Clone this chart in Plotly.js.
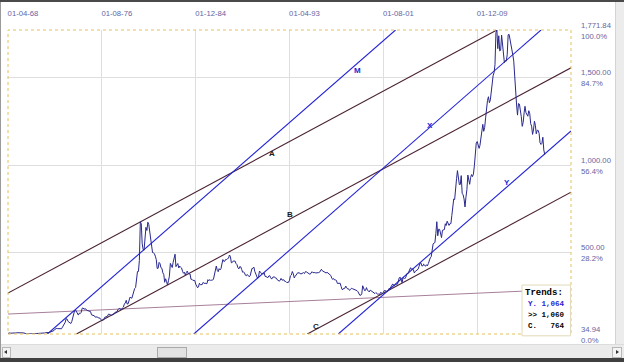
<!DOCTYPE html>
<html>
<head>
<meta charset="utf-8">
<script src="https://cdn.plot.ly/plotly-3.0.1.min.js"></script>
<style>
  html, body { margin: 0; padding: 0; background: #ffffff; }
  #wrap { position: relative; width: 624px; height: 362px; overflow: hidden; }
  #chart { position: absolute; left: 0; top: 0; width: 624px; height: 362px; }
  .f { position: absolute; pointer-events: none; }
</style>
</head>
<body>
<div id="wrap">
  <div id="chart"></div>
  <div class="f" style="left:0;top:0;width:624px;height:2px;background:#4a4a4a;"></div>
  <div class="f" style="left:0;top:2px;width:1px;height:356px;background:#9a9a9a;"></div>
  <div class="f" style="left:615px;top:2px;width:9px;height:342px;background:#ececec;border-left:1px solid #d4d4d4;"></div>
  <div class="f" style="left:1px;top:344px;width:623px;height:14px;background:#ebebeb;border-top:1px solid #dcdcdc;"></div>
  <div class="f" style="left:2px;top:347px;width:7px;height:9px;background:#f4f4f4;border:1px solid #b8b8b8;"></div>
  <div class="f" style="left:4px;top:350px;width:0;height:0;border-top:2px solid transparent;border-bottom:2px solid transparent;border-right:3px solid #333;"></div>
  <div class="f" style="left:157px;top:347px;width:28px;height:9px;background:#e2e2e2;border:1px solid #aaaaaa;"></div>
  <div class="f" style="left:612px;top:347px;width:8px;height:9px;background:#f4f4f4;border:1px solid #b8b8b8;"></div>
  <div class="f" style="left:616px;top:350px;width:0;height:0;border-top:2px solid transparent;border-bottom:2px solid transparent;border-left:3px solid #333;"></div>
  <div class="f" style="left:0;top:358px;width:624px;height:4px;background:#404040;"></div>
</div>
<script>
// Monthly average gold price (USD/oz), starting April 1968
var startYear = 1968, startMonth = 4;
var gold1968to69 = [38.0,40.5,41.1,39.5,39.2,39.9,39.4,39.5,41.1,
  42.3,42.6,43.3,43.5,43.5,41.4,41.8,41.2,40.5,40.2,37.0,35.2];
var gold1970s = [
  34.94,34.99,35.09,35.62,35.95,35.45,35.32,35.38,36.20,37.52,37.44,37.44,
  37.87,38.74,38.87,39.00,40.50,40.10,40.90,42.70,42.00,42.50,42.90,43.50,
  45.70,48.30,48.30,49.00,54.60,62.10,65.70,67.00,65.50,64.90,62.90,63.90,
  65.10,74.20,84.40,90.50,102.0,122.5,120.2,106.8,103.0,100.1,94.80,106.7,
  129.2,150.2,168.4,172.2,163.3,154.1,143.0,154.6,151.8,158.8,181.7,183.9,
  175.8,180.0,177.8,170.0,167.2,164.2,165.1,163.0,144.1,142.7,142.2,139.3,
  131.3,131.0,132.6,127.9,126.9,125.7,117.7,109.8,114.5,116.0,130.1,133.7,
  132.3,136.4,148.2,149.2,146.6,140.8,143.4,144.6,149.6,158.8,162.1,160.5,
  173.2,178.2,183.6,175.1,176.3,183.7,188.7,206.0,212.4,227.3,206.1,207.8,
  227.3,245.7,242.1,239.2,257.6,279.1,294.7,300.8,355.1,392.0,392.3,455.1];
var gold1980s = [
  675.3,665.3,553.6,517.4,513.8,600.7,644.3,626.5,673.6,661.1,623.5,596.7,
  557.4,500.0,498.8,494.4,479.7,460.8,409.3,410.6,444.0,436.8,413.4,410.1,
  384.4,374.2,330.5,350.5,333.9,314.9,339.1,364.8,438.3,422.1,414.7,444.3,
  481.2,490.9,419.7,432.8,437.6,412.1,422.7,416.3,411.8,393.4,382.0,387.8,
  370.6,386.0,394.3,381.3,377.4,377.6,347.4,347.7,341.1,340.2,341.2,320.2,
  302.7,299.1,304.0,324.9,316.4,316.8,317.4,330.1,323.6,325.2,325.3,322.4,
  345.4,338.9,345.9,340.4,342.6,342.6,348.9,376.5,418.0,423.4,398.3,391.0,
  408.3,401.1,408.9,438.4,460.2,449.6,450.6,461.3,460.0,465.7,467.9,486.3,
  477.8,442.0,443.6,451.7,451.5,451.6,437.6,431.4,413.5,406.8,420.2,418.6,
  404.0,387.8,390.2,384.3,371.0,367.6,375.0,365.4,362.0,367.0,391.8,409.5];
var gold1990s = [
  410.1,416.8,393.1,374.3,369.0,352.3,362.5,394.8,388.0,380.7,381.3,378.2,
  383.6,363.8,363.3,358.4,356.8,366.7,367.7,356.3,348.7,358.7,360.2,361.7,
  354.5,353.9,344.3,338.6,337.2,340.8,352.7,342.9,345.4,344.4,335.0,334.8,
  329.0,329.3,330.1,342.2,367.1,371.9,392.0,379.8,355.5,364.2,373.8,383.3,
  386.9,382.0,384.0,377.3,381.4,385.6,385.5,380.4,391.6,389.8,384.4,379.3,
  378.6,376.5,382.1,391.0,385.2,387.6,386.2,383.7,383.1,383.0,385.5,387.5,
  399.5,404.8,396.2,392.9,392.0,385.3,383.5,387.5,383.1,381.1,377.9,369.3,
  354.6,346.6,351.9,344.0,343.8,341.0,324.1,324.0,322.8,324.9,306.0,289.0,
  289.1,297.5,295.9,308.4,299.1,292.3,292.9,284.1,289.0,296.1,294.0,291.7,
  287.1,287.3,286.0,282.4,276.4,261.3,256.1,256.7,264.7,310.7,293.2,283.1];
var gold2000s = [
  284.3,300.0,286.4,280.0,275.3,285.7,281.6,274.5,273.7,270.0,266.0,271.4,
  265.5,261.9,263.0,260.5,272.4,270.2,267.5,272.4,283.4,283.1,276.2,275.9,
  281.7,295.5,294.0,302.7,314.5,321.2,313.3,310.3,319.2,316.6,319.2,333.4,
  356.9,359.0,340.6,328.2,355.7,356.4,351.0,359.8,378.9,378.9,389.9,407.6,
  413.8,404.9,406.7,403.0,383.8,392.4,398.1,400.5,405.3,420.5,439.4,442.1,
  424.0,423.4,434.2,428.9,421.9,430.7,424.5,437.9,456.0,469.9,476.7,509.8,
  549.9,555.0,557.1,610.6,676.5,596.2,633.8,632.6,598.2,585.8,627.8,629.8,
  631.2,664.8,654.9,679.4,666.9,655.5,665.3,665.4,712.7,754.6,806.3,803.2,
  889.6,922.3,968.4,909.7,888.7,889.5,939.8,839.0,829.9,806.6,760.9,816.1,
  858.7,943.2,924.3,890.2,928.6,945.7,934.2,949.4,996.6,1043.2,1127.0,1134.7];
var gold2010s = [
  1118.0,1095.4,1113.3,1148.7,1205.4,1232.9,1193.0,1215.8,1271.0,1342.0,1369.9,1390.6,
  1356.4,1372.7,1424.0,1473.8,1510.4,1528.7,1572.8,1755.8,1771.84,1665.2,1739.0,1652.3,
  1656.1,1742.6,1673.8,1650.1,1585.5,1596.7,1594.3,1630.3,1744.8,1746.6,1721.6,1684.8,
  1671.9,1627.6,1593.1,1487.9,1414.0,1343.4,1285.5,1351.7,1348.6,1316.6,1275.8,1221.5,
  1244.3,1299.6,1336.1,1299.0,1287.5,1279.1,1310.6,1295.1,1236.6,1222.5,1175.3,1200.6,
  1250.8,1227.1,1178.6,1198.9,1198.6,1181.5,1128.3,1117.9,1124.5,1159.3,1086.4,1060.0];

// Axis ticks
var xTickVals = ['1968-04-01','1976-08-01','1984-12-01','1993-04-01','2001-08-01','2009-12-01'];
var xTickText = ['01-04-68','01-08-76','01-12-84','01-04-93','01-08-01','01-12-09'];
var yGridVals = [500, 1000, 1500];
var yTickVals = [34.94, 500, 1000, 1500, 1771.84];
var yTickText = ['34.94', '500.00', '1,000.00', '1,500.00', '1,771.84'];
var yPctText = ['0.0%', '28.2%', '56.4%', '84.7%', '100.0%'];
var xRange = ['1968-04-01', '2018-04-01'];
var yRange = [34.94, 1771.84];

// Trend lines (endpoints in date / price)
var trendA = { x: ['1968-04-01', '2011-09-01'], y: [268.4, 1771.84] };
var trendB = { x: ['1974-05-01', '2018-04-01'], y: [34.94, 1555.7] };
var trendC = { x: ['1994-11-01', '2018-04-01'], y: [34.94, 844.8] };
var trendM = { x: ['1971-10-01', '2002-09-01'], y: [34.94, 1771.84] };
var trendX = { x: ['1984-10-01', '2015-08-01'], y: [34.94, 1771.84] };
var trendY = { x: ['1997-08-01', '2018-04-01'], y: [34.94, 1195.0] };
var trendBase = { x: ['1968-04-01', '2018-04-01'], y: [149.0, 292.0] };

var trendLabels = ['M', 'A', 'B', 'X', 'Y', 'C'];
var trendLabelX = ['1999-04-01', '1991-09-01', '1993-04-01', '2005-10-01', '2012-08-01', '1995-08-01'];
var trendLabelY = [1543, 1069, 715, 1229, 898, 80];
var trendLabelBlue = [true, false, false, true, true, false];

var trendsTitle = 'Trends:';
var trendsRows = ['Y. 1,064', '&gt;&gt; 1,060', 'C.&nbsp;&nbsp;&nbsp;764'];

// ---- build ----
var prices = [].concat(gold1968to69, gold1970s, gold1980s, gold1990s, gold2000s, gold2010s);
var dates = prices.map(function (v, i) {
  var m = startMonth - 1 + i;
  var y = startYear + Math.floor(m / 12);
  var mm = (m % 12) + 1;
  return y + '-' + (mm < 10 ? '0' : '') + mm + '-01';
});

var brown = '#4a2233';
var blue = '#2424d6';
var navy = '#28288e';

function line(t, color, width) {
  return { type: 'scatter', mode: 'lines', x: t.x, y: t.y, hoverinfo: 'skip',
           line: { color: color, width: width || 1.1 }, showlegend: false };
}

var traces = [
  line(trendBase, '#a8809c', 1),
  line(trendA, brown), line(trendB, brown), line(trendC, brown),
  line(trendM, blue), line(trendX, blue), line(trendY, blue),
  { type: 'scatter', mode: 'lines', x: dates, y: prices, hoverinfo: 'skip',
    line: { color: navy, width: 1 }, showlegend: false },
  { type: 'scatter', mode: 'lines', x: [xRange[0]], y: [yRange[0]], yaxis: 'y2',
    line: { width: 0 }, hoverinfo: 'skip', showlegend: false },
  { type: 'scatter', mode: 'lines', x: [xRange[0]], y: [yRange[0]], yaxis: 'y3',
    line: { width: 0 }, hoverinfo: 'skip', showlegend: false }
];

var tickFont = { family: 'Liberation Sans, Arial, sans-serif', size: 7.7, color: '#6464a4' };

var annotations = trendLabels.map(function (t, i) {
  return { x: trendLabelX[i], y: trendLabelY[i], xref: 'x', yref: 'y', text: '<b>' + t + '</b>',
           showarrow: false, xanchor: 'center', yanchor: 'middle',
           font: { family: 'Liberation Sans, Arial, sans-serif', size: 8,
                   color: trendLabelBlue[i] ? blue : '#1a1a1a' } };
});
var boxX = 0.9145;
annotations.push({ x: boxX, y: 0.135, xref: 'paper', yref: 'paper', text: '<b>' + trendsTitle + '</b>',
  showarrow: false, xanchor: 'left', yanchor: 'middle',
  font: { family: 'Liberation Mono, Courier New, monospace', size: 9, color: '#000000' } });
var rowColors = [blue, '#000000', '#000000'];
var rowY = [0.099, 0.063, 0.025];
trendsRows.forEach(function (r, i) {
  annotations.push({ x: boxX + 0.006, y: rowY[i], xref: 'paper', yref: 'paper', text: '<b>' + r + '</b>',
    showarrow: false, xanchor: 'left', yanchor: 'middle',
    font: { family: 'Liberation Mono, Courier New, monospace', size: 7.5, color: rowColors[i] } });
});

var layout = {
  width: 624, height: 362,
  margin: { l: 8, r: 53, t: 30, b: 28, pad: 0 },
  paper_bgcolor: '#ffffff', plot_bgcolor: '#ffffff',
  showlegend: false,
  xaxis: {
    type: 'date', range: xRange, side: 'top',
    tickmode: 'array', tickvals: xTickVals, ticktext: xTickText,
    showgrid: true, gridcolor: '#dedede', gridwidth: 1,
    zeroline: false, showline: false, ticks: '',
    tickfont: tickFont, ticklabelshift: 15, ticklabelstandoff: 11
  },
  yaxis: {
    range: yRange, tickmode: 'array', tickvals: yGridVals,
    showticklabels: false, showgrid: true, gridcolor: '#dedede', gridwidth: 1,
    zeroline: false, showline: false, ticks: ''
  },
  yaxis2: {
    range: yRange, overlaying: 'y', side: 'right', tickmode: 'array',
    tickvals: yTickVals, ticktext: yTickText, showgrid: false, zeroline: false,
    showline: false, ticks: '', tickfont: tickFont, ticklabelshift: -5, ticklabelstandoff: 9
  },
  yaxis3: {
    range: yRange, overlaying: 'y', side: 'right', tickmode: 'array',
    tickvals: yTickVals, ticktext: yPctText, showgrid: false, zeroline: false,
    showline: false, ticks: '', tickfont: tickFont, ticklabelshift: 6, ticklabelstandoff: 9
  },
  shapes: [
    { type: 'rect', xref: 'paper', yref: 'paper', x0: 0, x1: 1, y0: 0, y1: 1,
      line: { color: '#e6c25a', width: 1, dash: 'dot' }, layer: 'above' },
    { type: 'rect', xref: 'paper', yref: 'paper', x0: 0.913, x1: 0.999, y0: -0.006, y1: 0.161,
      fillcolor: '#ffffff', line: { color: '#e2dab8', width: 1 }, layer: 'above' }
  ],
  annotations: annotations
};

Plotly.newPlot('chart', traces, layout, { staticPlot: true, displayModeBar: false });
</script>
</body>
</html>
